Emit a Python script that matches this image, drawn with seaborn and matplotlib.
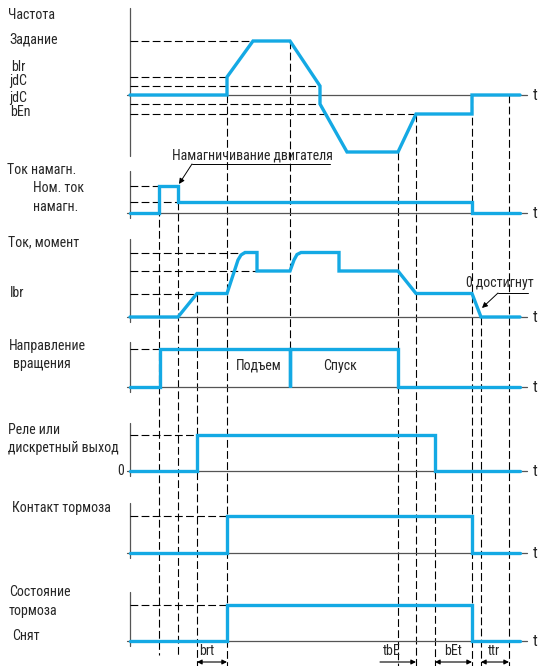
import numpy as np
import matplotlib.pyplot as plt
from matplotlib import font_manager
import seaborn as sns

sns.set_style("white")
installed = {f.name for f in font_manager.fontManager.ttflist}
narrow = [f for f in ['Liberation Sans Narrow', 'Roboto Condensed', 'DejaVu Sans Condensed', 'Liberation Sans', 'Roboto']
          if f in installed]
plt.rcParams['font.family'] = narrow[:1] + ['DejaVu Sans']
is_narrow = bool(narrow) and narrow[0] in ('Liberation Sans Narrow', 'Roboto Condensed', 'DejaVu Sans Condensed')

# time of each event (0 = left axis), signal values above each panel's baseline
freq_t = [0, 97, 97, 123, 160, 190, 190, 217, 268, 286, 342, 342, 390]
freq_v = [0, 0, 18, 54, 54, 9, -9, -57, -57, -19, -19, 0, 0]
mag_t = [0, 29, 29, 48, 48, 342, 342, 390]
mag_v = [0, 0, 27, 27, 11.5, 11.5, 0, 0]
torque_t = [0, 48, 67, 97, 108, 111, 115, 127, 127, 160, 164, 167, 171, 209, 209, 268, 286, 342, 351, 390]
torque_v = [0, 0, 23.5, 23.5, 57, 62, 64.5, 64.5, 46, 46, 57, 62.5, 64.5, 64.5, 46, 46, 23.5, 23.5, 0, 0]
dir_t = [0, 30, 30, 160, 160, 160, 268, 268, 390]
dir_v = [0, 0, 38, 38, 0, 38, 38, 0, 0]
relay_t = [0, 67, 67, 305, 305, 390]
relay_v = [0, 0, 36, 36, 0, 0]
contact_t = [0, 97, 97, 342, 342, 390]
contact_v = [0, 0, 37, 37, 0, 0]
state_t = [0, 97, 97, 342, 342, 390]
state_v = [0, 0, 36.5, 36.5, 0, 0]

# reference levels: (value, time where the dashed guide stops)
freq_levels = [(54, 123), (18, 97), (9, 190), (-9, 190), (-19, 286)]
mag_levels = [(27, 29), (11.5, 48)]
torque_levels = [(64.5, 115), (46, 127), (23.5, 67)]
dir_levels = [(38, 30)]
relay_levels = [(36, 67)]
contact_levels = [(37, 97)]
state_levels = [(36.5, 97)]

# panel layout in pixels: baseline, axis top, axis bottom
panels = [
    (freq_t, freq_v, freq_levels, 95, 8, 156),
    (mag_t, mag_v, mag_levels, 213, 171, 218),
    (torque_t, torque_v, torque_levels, 317, 239, 322),
    (dir_t, dir_v, dir_levels, 387, 342, 392),
    (relay_t, relay_v, relay_levels, 471, 423, 476),
    (contact_t, contact_v, contact_levels, 553, 503, 558),
    (state_t, state_v, state_levels, 641, 592, 646),
]

blue = '#14A9E4'
axc = '#555555'
dash = (0, (7, 3))
fs = 10 if is_narrow else 9.5

fig = plt.figure(figsize=(5.38, 6.66), dpi=100)
ax = fig.add_axes([0, 0, 1, 1])
ax.set_xlim(-130, 408)
ax.set_ylim(666, 0)
ax.axis('off')

for t, v, levels, base, top, bottom in panels:
    ax.plot([0, 0], [top, bottom], color=axc, lw=0.9)
    ax.plot([-3, 397], [base, base], color=axc, lw=0.9)
    ax.text(403, base, 't', fontsize=11.5, va='center', ha='left')
    for lv, tend in levels:
        ax.plot([0, tend], [base - lv, base - lv], color='black', lw=0.8, ls=dash)
    sns.lineplot(x=t, y=base - np.array(v), sort=False, estimator=None, ax=ax,
                 color=blue, lw=2.4, solid_joinstyle='miter', legend=False)

# vertical event guides: (time, from y, to y)
vguides = [
    (29, 186, 655), (48, 201.5, 655), (67, 293.5, 666), (97, 95, 666),
    (160, 41, 349), (268, 152, 666), (286, 114, 666), (305, 471, 666),
    (342, 95, 666), (351, 317, 666), (379, 95, 666),
]
for t, y0, y1 in vguides:
    ax.plot([t, t], [y0, y1], color='black', lw=0.8, ls=dash, zorder=1)

labels = [
    (8, 15, 'Частота'), (9, 40, 'Задание'), (11, 67, 'blr'), (9, 81, 'jdC'),
    (9, 98, 'jdC'), (10, 112, 'bEn'),
    (7, 170, 'Ток намагн.'), (33, 188, 'Ном. ток'), (33, 207, 'намагн.'),
    (8, 242, 'Ток, момент'), (10, 293, 'Ibr'),
    (9, 346, 'Направление'), (13, 364, 'вращения'),
    (8, 430, 'Реле или'), (8, 448, 'дискретный выход'), (117, 471, '0'),
    (12, 508, 'Контакт тормоза'),
    (9, 592, 'Состояние'), (9, 611, 'тормоза'), (12, 636, 'Снят'),
]
for x, y, s in labels:
    ax.text(x - 130, y, s, fontsize=fs, va='center', ha='left')

ax.text(129, 366, 'Подъем', fontsize=fs, ha='center', va='center')
ax.text(210, 366, 'Спуск', fontsize=fs, ha='center', va='center')

# leaders
ax.text(42, 155, 'Намагничивание двигателя', fontsize=fs, ha='left', va='center')
ax.plot([62, 200], [164, 164], color='black', lw=0.7)
ax.annotate('', xy=(49, 184), xytext=(62, 164),
            arrowprops=dict(arrowstyle='-|>', color='black', lw=0.7, mutation_scale=8, shrinkA=0, shrinkB=0))
ax.text(336, 283, '0 достигнут', fontsize=fs, ha='left', va='center')
ax.plot([368, 398], [293, 293], color='black', lw=0.7)
ax.annotate('', xy=(352, 308), xytext=(368, 293),
            arrowprops=dict(arrowstyle='-|>', color='black', lw=0.7, mutation_scale=8, shrinkA=0, shrinkB=0))

# time intervals at the bottom
dims = [(67, 97, 'brt', '<|-|>'), (250, 286, 'tbE', '-|>'), (305, 342, 'bEt', '<|-|>'), (351, 379, 'ttr', '<|-|>')]
for t0, t1, s, style in dims:
    ax.annotate('', xy=(t1, 662), xytext=(t0, 662),
                arrowprops=dict(arrowstyle=style, color='black', lw=0.8, mutation_scale=7, shrinkA=0, shrinkB=0))
centers = {'brt': 77, 'tbE': 262, 'bEt': 323, 'ttr': 364}
for k, c in centers.items():
    ax.text(c, 651, k, fontsize=fs, ha='center', va='center')

fig.savefig('out.png', dpi=100)
